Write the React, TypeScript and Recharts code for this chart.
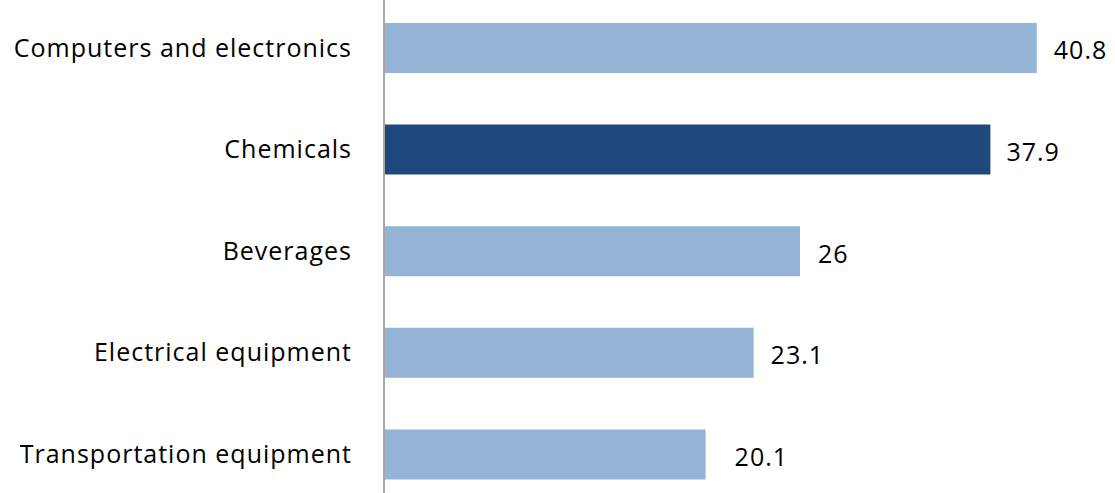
import { BarChart, Bar, XAxis, YAxis, Cell, LabelList } from "recharts";

const categories = [
  "Computers and electronics",
  "Chemicals",
  "Beverages",
  "Electrical equipment",
  "Transportation equipment",
];
const values = [40.8, 37.9, 26, 23.1, 20.1];
const highlighted = "Chemicals";

const LIGHT = "#95b3d7";
const DARK = "#1f497d";
const FONT = "'Open Sans', sans-serif";
const textStyle = { fill: "#000", fontSize: 25, fontFamily: FONT, letterSpacing: 1 };
// gap between bar end and its value label (last one sits further out in the original)
const labelGaps = [17, 16, 18, 17, 29];

const data = categories.map((name, i) => ({ name, value: values[i] }));

function ValueLabel(props: any) {
  const { x, y, width, height, value, index } = props;
  return (
    <text
      x={Number(x) + Number(width) + labelGaps[index]}
      y={Number(y) + Number(height) / 2 + 2.5}
      dy="0.355em"
      textAnchor="start"
      style={textStyle}
    >
      {value}
    </text>
  );
}

export default function App() {
  return (
    <div
      style={{
        position: "absolute",
        top: 0,
        left: 0,
        width: 1115,
        height: 493,
        overflow: "hidden",
        background: "#fff",
      }}
    >
      <div style={{ position: "relative", top: -3 }}>
        <BarChart
          width={1115}
          height={508}
          data={data}
          layout="vertical"
          margin={{ top: 0, right: 11, bottom: 0, left: 0 }}
        >
          <XAxis type="number" domain={[0, 45]} hide />
          <YAxis
            type="category"
            dataKey="name"
            width={384}
            tickLine={false}
            tickSize={0}
            tickMargin={32}
            axisLine={{ stroke: "#a6a6a6", strokeWidth: 2 }}
            tick={textStyle}
            interval={0}
          />
          <Bar dataKey="value" barSize={50} isAnimationActive={false}>
            {data.map((d) => (
              <Cell key={d.name} fill={d.name === highlighted ? DARK : LIGHT} />
            ))}
            <LabelList dataKey="value" content={ValueLabel} />
          </Bar>
        </BarChart>
      </div>
    </div>
  );
}
